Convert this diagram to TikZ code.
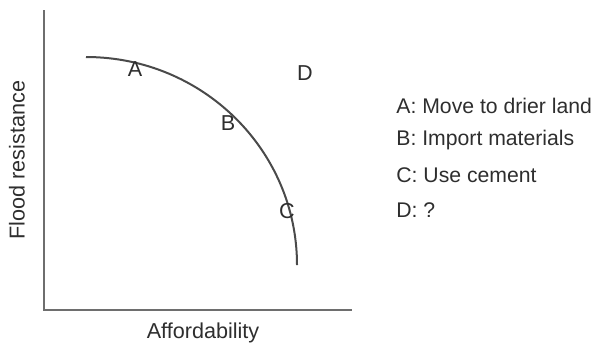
\documentclass[tikz,border=0pt]{standalone}
\usepackage{fontspec}
\setmainfont{Liberation Sans}
\usepackage{xcolor}
\usepackage{tikz}
\usetikzlibrary{arrows.meta, positioning}

\definecolor{axisgray}{HTML}{6E6E6E}
\definecolor{curvegray}{HTML}{4A4A4A}
\definecolor{textgray}{HTML}{2E2E2E}

\begin{document}
\begin{tikzpicture}[
    x=0.5pt, y=0.5pt,
    axis/.style={draw=axisgray, line width=1.1pt},
    frontier/.style={draw=curvegray, line width=1pt},
    point/.style={font=\fontsize{10.8}{12}\selectfont, text=textgray, inner sep=0pt},
    label/.style={font=\fontsize{10.8}{12}\selectfont, text=textgray, inner sep=0pt},
    legend/.style={font=\fontsize{10.6}{12}\selectfont, text=textgray, anchor=west, inner sep=0pt}
]
\useasboundingbox (0,0) rectangle (592,345);

% Axes
\coordinate (origin) at (44,35);
\coordinate (ytop) at (44,335);
\coordinate (xend) at (352,35);
\draw[axis] (ytop) -- (origin) -- (xend);

\node[label] (xlab) at (203,12) {Affordability};
\node[label, rotate=90] (ylab) at (17,185) {Flood resistance};

% Frontier curve
\coordinate (cstart) at (86,288);
\draw[frontier] (cstart) arc[start angle=90, end angle=0, x radius=211, y radius=208] coordinate (cend);

% Points
\node[point] (A) at (135,276) {A};
\node[point] (B) at (228,222) {B};
\node[point] (C) at (287,134) {C};
\node[point] (D) at (305,272) {D};

% Legend
\node[legend] (legA) at (396,239) {A: Move to drier land};
\node[legend] (legB) at (396,205) {B: Import materials};
\node[legend] (legC) at (396,170) {C: Use cement};
\node[legend] (legD) at (396,135) {D: ?};

\end{tikzpicture}
\end{document}
